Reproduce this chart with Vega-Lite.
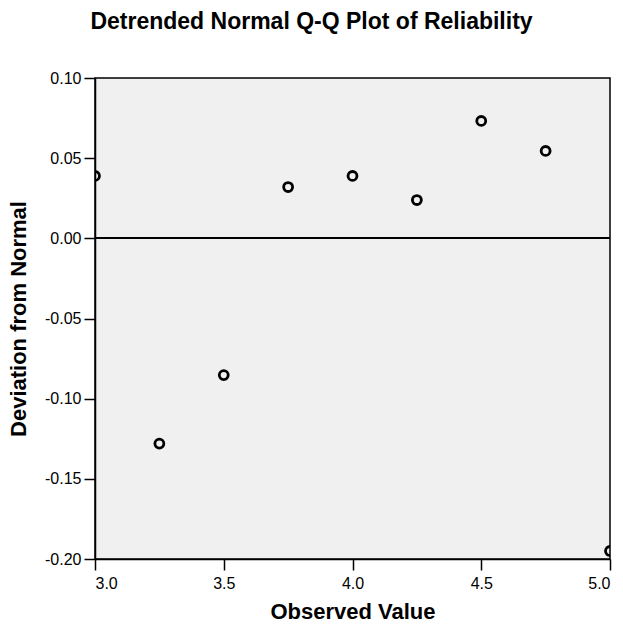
{
  "$schema": "https://vega.github.io/schema/vega-lite/v6.json",
  "autosize": "none",
  "width": 515,
  "height": 481,
  "padding": {"left": 95, "top": 78, "right": 13, "bottom": 65},
  "background": "white",
  "config": {
    "font": "Liberation Sans",
    "view": {"fill": "#F0F0F0", "stroke": "black", "strokeWidth": 1.5},
    "axis": {"grid": false, "domainColor": "black", "domainWidth": 1.5, "tickColor": "black", "tickWidth": 1.5, "tickSize": 11, "labelFontSize": 16, "labelColor": "black", "titleFontSize": 22, "titleFontWeight": "bold", "titleColor": "black", "labelFont": "Liberation Sans", "titleFont": "Liberation Sans"}
  },
  "title": {"text": "Detrended Normal Q-Q Plot of Reliability", "fontSize": 23, "fontWeight": "bold", "font": "Liberation Sans", "color": "black", "anchor": "middle", "dx": -41, "offset": 36},
  "data": {"values": [
    {"observed": 3.0, "deviation": 0.0389},
    {"observed": 3.25, "deviation": -0.128},
    {"observed": 3.5, "deviation": -0.0853},
    {"observed": 3.75, "deviation": 0.032},
    {"observed": 4.0, "deviation": 0.0389},
    {"observed": 4.25, "deviation": 0.0239},
    {"observed": 4.5, "deviation": 0.0732},
    {"observed": 4.75, "deviation": 0.0545},
    {"observed": 5.0, "deviation": -0.195}
  ]},
  "layer": [
    {
      "mark": {"type": "rule", "color": "black", "strokeWidth": 1.5},
      "encoding": {"y": {"datum": 0, "type": "quantitative", "scale": {"domain": [-0.2, 0.1]}}}
    },
    {
      "mark": {"type": "point", "shape": "circle", "filled": false, "color": "black", "strokeWidth": 2.8, "size": 80, "opacity": 1, "clip": true},
      "encoding": {
        "x": {"field": "observed", "type": "quantitative", "title": "Observed Value", "scale": {"domain": [3, 5], "nice": false, "zero": false}, "axis": {"values": [3, 3.5, 4, 4.5, 5], "format": ".1f", "titlePadding": 10, "labelPadding": 5}},
        "y": {"field": "deviation", "type": "quantitative", "title": "Deviation from Normal", "scale": {"domain": [-0.2, 0.1], "nice": false, "zero": false}, "axis": {"values": [-0.2, -0.15, -0.1, -0.05, 0, 0.05, 0.1], "labelExpr": "replace(format(datum.value, '.2f'), '\u2212', '-')", "titlePadding": 14, "labelPadding": 3}}
      }
    }
  ]
}
